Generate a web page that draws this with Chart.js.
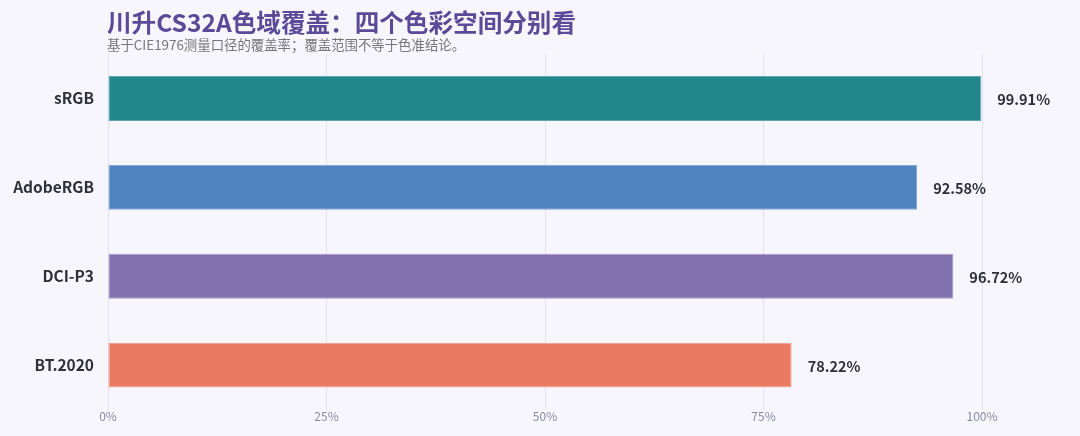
<!DOCTYPE html>
<html>
<head>
<meta charset="utf-8">
<script src="https://cdn.jsdelivr.net/npm/chart.js@4"></script>
<style>
  html, body { margin: 0; padding: 0; background: #f7f6fc; }
  #wrap { position: relative; width: 1080px; height: 436px; overflow: hidden; background: #f7f6fc; }
  #title { position: absolute; left: 107px; top: 6px; font-family: "Noto Sans CJK SC", "Noto Sans", sans-serif; font-weight: 700; font-size: 24.6px; line-height: 30px; color: #5a4a97; white-space: nowrap; }
  #subtitle { position: absolute; left: 107px; top: 36px; font-family: "Noto Sans CJK SC", "Noto Sans", sans-serif; font-size: 13.4px; line-height: 17px; color: #777; white-space: nowrap; }
  canvas { position: absolute; left: 0; top: 0; }
</style>
</head>
<body>
<div id="wrap">
  <canvas id="c" width="1080" height="436"></canvas>
  <div id="title">川升CS32A色域覆盖：四个色彩空间分别看</div>
  <div id="subtitle">基于CIE1976测量口径的覆盖率；覆盖范围不等于色准结论。</div>
</div>
<script>
const categories = ["sRGB", "AdobeRGB", "DCI-P3", "BT.2020"];
const coverage = [99.91, 92.58, 96.72, 78.22];
const barColors = ["rgba(28,130,137,0.96)", "rgba(72,127,188,0.96)", "rgba(124,108,172,0.96)", "rgba(233,118,92,0.96)"];
const borderColors = ["#5fa8ae", "#84a8d4", "#a597c8", "#f0a390"];
const tickValues = [0, 25, 50, 75, 100];

const valueLabels = {
  id: 'valueLabels',
  afterDatasetsDraw(chart) {
    const ctx = chart.ctx;
    const meta = chart.getDatasetMeta(0);
    ctx.save();
    ctx.font = 'bold 14.5px "Noto Sans CJK SC", "Noto Sans", sans-serif';
    ctx.fillStyle = '#303038';
    ctx.textAlign = 'left';
    ctx.textBaseline = 'middle';
    meta.data.forEach((bar, i) => {
      ctx.fillText(coverage[i].toFixed(2) + '%', bar.x + 16, bar.y + 1);
    });
    ctx.restore();
  }
};

new Chart(document.getElementById('c'), {
  type: 'bar',
  data: {
    labels: categories,
    datasets: [{
      data: coverage,
      backgroundColor: barColors,
      borderColor: borderColors,
      borderWidth: 1,
      borderSkipped: false,
      categoryPercentage: 1,
      barPercentage: 0.505
    }]
  },
  options: {
    indexAxis: 'y',
    responsive: false,
    animation: false,
    layout: { padding: { top: 54, right: 98, bottom: 12, left: 0 } },
    plugins: { legend: { display: false }, tooltip: { enabled: false }, title: { display: false } },
    scales: {
      x: {
        min: 0, max: 100,
        afterBuildTicks(scale) { scale.ticks = tickValues.map(v => ({ value: v })); },
        ticks: {
          callback: v => v + '%',
          color: '#8a8c9c',
          font: { family: '"Noto Sans CJK SC", "Noto Sans", sans-serif', size: 12 },
          padding: 0,
          maxRotation: 0
        },
        grid: { color: '#e3e1eb', lineWidth: 1, drawTicks: false },
        border: { display: false }
      },
      y: {
        afterFit(scale) { scale.width = 108; },
        ticks: {
          color: '#303038',
          font: { family: '"Noto Sans CJK SC", "Noto Sans", sans-serif', size: 15.5, weight: 'bold' },
          padding: 14
        },
        grid: { display: false, drawTicks: false },
        border: { display: false }
      }
    }
  },
  plugins: [valueLabels]
});
</script>
</body>
</html>
